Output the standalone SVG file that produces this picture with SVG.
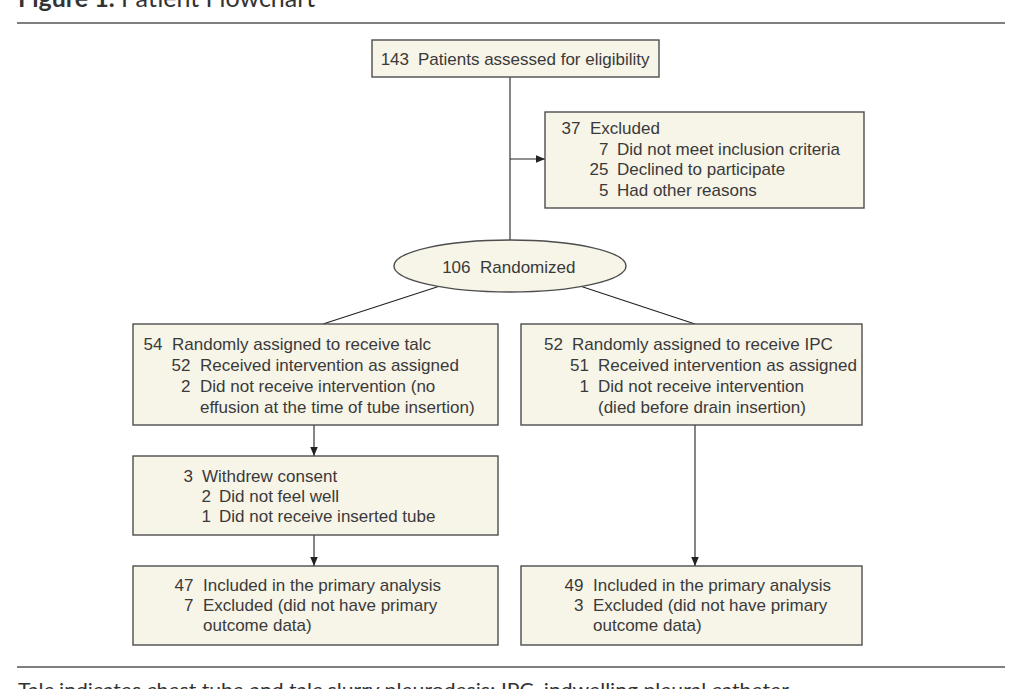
<svg xmlns="http://www.w3.org/2000/svg" width="1025" height="689" viewBox="0 0 1025 689">
<defs>
<marker id="arr" viewBox="0 0 10 10" refX="10" refY="5" markerWidth="9" markerHeight="9" markerUnits="userSpaceOnUse" orient="auto">
<path d="M0,0.8 L10,5 L0,9.2 Z" fill="#222"/>
</marker>
<style>
.box{fill:#f7f4e8;stroke:#4d4d4d;stroke-width:1.4}
.t{font-family:"Liberation Sans",Arial,sans-serif;font-size:17px;fill:#3a3a3a}
.n{text-anchor:end}
.c{fill:none;stroke:#222;stroke-width:1.1}
.rule{stroke:#555;stroke-width:1.6}
.cap{font-family:Lato,"Open Sans",sans-serif;fill:#333}
</style>
</defs>
<rect width="1025" height="689" fill="#fff"/>
<text class="cap" x="18" y="7" font-size="25"><tspan font-weight="bold">Figure 1.</tspan> Patient Flowchart</text>
<line class="rule" x1="17" y1="23" x2="1005" y2="23"/>
<line class="rule" x1="17" y1="667" x2="1005" y2="667"/>
<text class="cap" x="18" y="697" font-size="20" textLength="775" lengthAdjust="spacingAndGlyphs">Talc indicates chest tube and talc slurry pleurodesis; IPC, indwelling pleural catheter.</text>

<g id="connectors">
<line class="c" x1="510" y1="77" x2="510" y2="240"/>
<line class="c" x1="510" y1="159" x2="545" y2="159" marker-end="url(#arr)"/>
<line class="c" x1="440" y1="286" x2="323" y2="324"/>
<line class="c" x1="580" y1="286" x2="695" y2="324"/>
<line class="c" x1="314" y1="425" x2="314" y2="456" marker-end="url(#arr)"/>
<line class="c" x1="314" y1="535" x2="314" y2="566" marker-end="url(#arr)"/>
<line class="c" x1="695" y1="425" x2="695" y2="566" marker-end="url(#arr)"/>
</g>

<g id="assessed">
<rect class="box" x="372" y="40" width="287" height="37"/>
<text class="t n" x="409" y="65">143</text>
<text class="t" x="418" y="65">Patients assessed for eligibility</text>
</g>

<g id="excluded">
<rect class="box" x="545" y="112" width="319" height="96"/>
<text class="t n" x="580.5" y="134">37</text>
<text class="t" x="590" y="134">Excluded</text>
<text class="t n" x="608.5" y="154.5">7</text>
<text class="t" x="617" y="154.5">Did not meet inclusion criteria</text>
<text class="t n" x="608.5" y="175">25</text>
<text class="t" x="617" y="175">Declined to participate</text>
<text class="t n" x="608.5" y="195.5">5</text>
<text class="t" x="617" y="195.5">Had other reasons</text>
</g>

<g id="randomized">
<ellipse class="box" cx="510" cy="266" rx="116" ry="26"/>
<text class="t n" x="470.5" y="273">106</text>
<text class="t" x="480" y="273">Randomized</text>
</g>

<g id="talc">
<rect class="box" x="133" y="324" width="365" height="101"/>
<text class="t n" x="162.5" y="350">54</text>
<text class="t" x="172" y="350">Randomly assigned to receive talc</text>
<text class="t n" x="190.5" y="371">52</text>
<text class="t" x="200" y="371">Received intervention as assigned</text>
<text class="t n" x="190.5" y="392">2</text>
<text class="t" x="200" y="392">Did not receive intervention (no</text>
<text class="t" x="200" y="413">effusion at the time of tube insertion)</text>
</g>

<g id="ipc">
<rect class="box" x="521" y="324" width="341" height="101"/>
<text class="t n" x="563" y="350">52</text>
<text class="t" x="572" y="350">Randomly assigned to receive IPC</text>
<text class="t n" x="589" y="371">51</text>
<text class="t" x="598" y="371">Received intervention as assigned</text>
<text class="t n" x="589" y="392">1</text>
<text class="t" x="598" y="392">Did not receive intervention</text>
<text class="t" x="598" y="413">(died before drain insertion)</text>
</g>

<g id="withdrew">
<rect class="box" x="133" y="456" width="365" height="79"/>
<text class="t n" x="193" y="482">3</text>
<text class="t" x="202" y="482">Withdrew consent</text>
<text class="t n" x="211" y="502">2</text>
<text class="t" x="219" y="502">Did not feel well</text>
<text class="t n" x="211" y="522">1</text>
<text class="t" x="219" y="522">Did not receive inserted tube</text>
</g>

<g id="analysis-talc">
<rect class="box" x="133" y="566" width="365" height="79"/>
<text class="t n" x="193.5" y="591">47</text>
<text class="t" x="203" y="591">Included in the primary analysis</text>
<text class="t n" x="193.5" y="611">7</text>
<text class="t" x="203" y="611">Excluded (did not have primary</text>
<text class="t" x="203" y="631">outcome data)</text>
</g>

<g id="analysis-ipc">
<rect class="box" x="521" y="566" width="341" height="79"/>
<text class="t n" x="583.5" y="591">49</text>
<text class="t" x="593" y="591">Included in the primary analysis</text>
<text class="t n" x="583.5" y="611">3</text>
<text class="t" x="593" y="611">Excluded (did not have primary</text>
<text class="t" x="593" y="631">outcome data)</text>
</g>
</svg>
